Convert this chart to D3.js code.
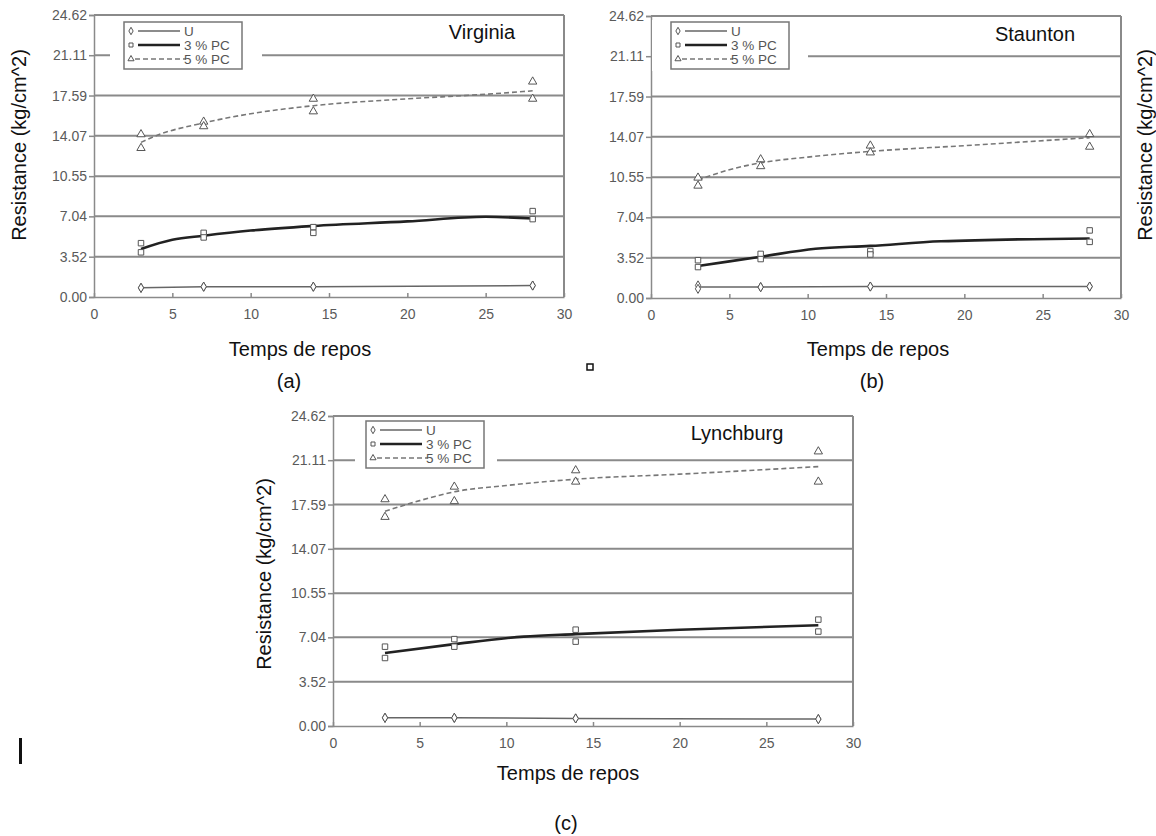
<!DOCTYPE html>
<meta charset="utf-8">
<style>
    body { margin: 0; background: #fff; }
    text { font-family: "Liberation Sans", Arial, sans-serif; }
    .grid line { stroke: #8a8a8a; stroke-width: 2; }
    .axis path, .axis line { stroke: #8a8a8a; stroke-width: 1.5; }
    .axis text { fill: #5a5a5a; font-size: 14px; }
</style>
<svg id="chart" width="1156" height="836"></svg>
<script src="https://d3js.org/d3.v7.min.js"></script>
<script>
    // shared axis values
    var yTicks = [0, 3.52, 7.04, 10.55, 14.07, 17.59, 21.11, 24.62];
    var xTicks = [0, 5, 10, 15, 20, 25, 30];
    var days = [3, 7, 14, 28];
    var seriesNames = ["U", "3 % PC", "5 % PC"];

    // Virginia (a) - two replicates per day
    var virginiaU = [[0.8, 0.8], [0.9, 0.9], [0.9, 0.9], [1.0, 1.0]];
    var virginiaPc3 = [[4.7, 3.9], [5.6, 5.2], [6.1, 5.6], [7.5, 6.8]];
    var virginiaPc5 = [[14.2, 13.0], [15.3, 14.9], [17.3, 16.2], [18.8, 17.3]];
    var virginiaPc3Trend = [[3, 4.2], [5, 5.0], [7, 5.35], [10, 5.8], [14, 6.2], [20, 6.6], [25, 7.0], [28, 6.85]];
    var virginiaPc5Trend = [[3, 13.5], [4, 14.1], [7, 15.2], [10, 16.0], [14, 16.7], [20, 17.3], [25, 17.7], [28, 18.0]];

    // Staunton (b)
    var stauntonU = [[1.1, 0.8], [0.95, 0.95], [1.0, 1.0], [1.0, 1.0]];
    var stauntonPc3 = [[3.3, 2.7], [3.85, 3.4], [4.1, 3.8], [5.9, 4.9]];
    var stauntonPc5 = [[10.5, 9.8], [12.1, 11.5], [13.3, 12.7], [14.3, 13.2]];
    var stauntonPc3Trend = [[3, 2.8], [7, 3.6], [10.5, 4.3], [14, 4.55], [18.5, 4.95], [28, 5.2]];
    var stauntonPc5Trend = [[3, 10.3], [5, 11.2], [7, 11.8], [10, 12.3], [14, 12.8], [20, 13.3], [28, 14.0]];

    // Lynchburg (c)
    var lynchburgU = [[0.65, 0.65], [0.65, 0.65], [0.6, 0.6], [0.55, 0.55]];
    var lynchburgPc3 = [[6.3, 5.4], [6.9, 6.3], [7.65, 6.7], [8.45, 7.5]];
    var lynchburgPc5 = [[18.0, 16.6], [19.0, 17.85], [20.3, 19.4], [21.8, 19.4]];
    var lynchburgPc3Trend = [[3, 5.8], [7, 6.5], [11, 7.1], [14, 7.3], [20, 7.65], [28, 8.0]];
    var lynchburgPc5Trend = [[3, 17.05], [5, 17.9], [7, 18.6], [10, 19.1], [14, 19.6], [20, 20.0], [28, 20.6]];

    // layout of the three panels (pixel boxes only, no data)
    var panels = [
        { name: "Virginia", tag: "(a)", left: 94, right: 564, top: 15, bottom: 297,
          titleX: 482, titleY: 39, legendX: 124, legendY: 22, hideFrom: 110, hideTo: 262,
          yTitleX: 26, yTitleY: 145, xTitleX: 300, xTitleY: 356, tagX: 289, tagY: 388,
          u: virginiaU, pc3: virginiaPc3, pc5: virginiaPc5, pc3Trend: virginiaPc3Trend, pc5Trend: virginiaPc5Trend },
        { name: "Staunton", tag: "(b)", left: 651, right: 1121, top: 16, bottom: 298,
          titleX: 1035, titleY: 41, legendX: 671, legendY: 22, hideFrom: 652, hideTo: 808,
          yTitleX: 1152, yTitleY: 145, xTitleX: 878, xTitleY: 356, tagX: 872, tagY: 388,
          u: stauntonU, pc3: stauntonPc3, pc5: stauntonPc5, pc3Trend: stauntonPc3Trend, pc5Trend: stauntonPc5Trend },
        { name: "Lynchburg", tag: "(c)", left: 333, right: 853, top: 416, bottom: 726,
          titleX: 737, titleY: 440, legendX: 366, legendY: 421, hideFrom: 355, hideTo: 497,
          yTitleX: 271, yTitleY: 574, xTitleX: 568, xTitleY: 780, tagX: 566, tagY: 830,
          u: lynchburgU, pc3: lynchburgPc3, pc5: lynchburgPc5, pc3Trend: lynchburgPc3Trend, pc5Trend: lynchburgPc5Trend }
    ];

    var svg = d3.select("#chart");

    var symbols = [d3.symbolDiamond, d3.symbolSquare, d3.symbolTriangle];
    var lineStyles = [
        { stroke: "#666", width: 1.5, dash: null },
        { stroke: "#222", width: 2.6, dash: null },
        { stroke: "#777", width: 1.6, dash: "5,3" }
    ];

    panels.forEach(function(p) {
        var g = svg.append("g");
        var x = d3.scaleLinear().domain([0, 30]).range([p.left, p.right]);
        var y = d3.scaleLinear().domain([0, 24.62]).range([p.bottom, p.top]);

        // horizontal grid lines (top one is the frame)
        g.append("g").attr("class", "grid")
            .selectAll("line")
            .data(yTicks.slice(1))
            .enter().append("line")
            .attr("x1", p.left).attr("x2", p.right)
            .attr("y1", function(d) { return y(d); })
            .attr("y2", function(d) { return y(d); });

        // right frame
        g.append("line")
            .attr("x1", p.right).attr("x2", p.right)
            .attr("y1", p.top).attr("y2", p.bottom)
            .attr("stroke", "#8a8a8a").attr("stroke-width", 2);

        // axes
        g.append("g").attr("class", "axis")
            .attr("transform", "translate(" + p.left + ",0)")
            .call(d3.axisLeft(y).tickValues(yTicks).tickFormat(d3.format(".2f")).tickSize(5).tickPadding(2));
        g.append("g").attr("class", "axis")
            .attr("transform", "translate(0," + p.bottom + ")")
            .call(d3.axisBottom(x).tickValues(xTicks).tickSizeInner(-4).tickSizeOuter(0).tickPadding(12));

        // white patch behind the legend (hides part of the 21.11 grid line)
        g.append("rect")
            .attr("x", p.hideFrom).attr("y", p.legendY - 2)
            .attr("width", p.hideTo - p.hideFrom).attr("height", 51)
            .attr("fill", "#fff");

        var line = d3.line()
            .x(function(d) { return x(d[0]); })
            .y(function(d) { return y(d[1]); })
            .curve(d3.curveMonotoneX);
        var straight = d3.line()
            .x(function(d) { return x(d[0]); })
            .y(function(d) { return y(d[1]); });

        // U line through the day means
        var uMeans = days.map(function(d, i) { return [d, d3.mean(p.u[i])]; });
        var trends = [uMeans, p.pc3Trend, p.pc5Trend];
        var reps = [p.u, p.pc3, p.pc5];

        trends.forEach(function(t, k) {
            g.append("path")
                .attr("d", k === 0 ? straight(t) : line(t))
                .attr("fill", "none")
                .attr("stroke", lineStyles[k].stroke)
                .attr("stroke-width", lineStyles[k].width)
                .attr("stroke-dasharray", lineStyles[k].dash);
        });

        reps.forEach(function(r, k) {
            var pts = [];
            r.forEach(function(pair, i) {
                pair.forEach(function(v) { pts.push([days[i], v]); });
            });
            g.append("g").selectAll("path")
                .data(pts)
                .enter().append("path")
                .attr("d", d3.symbol().type(symbols[k]).size(k === 0 ? 24 : 30))
                .attr("transform", function(d) { return "translate(" + x(d[0]) + "," + y(d[1]) + ")"; })
                .attr("fill", "#fff")
                .attr("stroke", "#555")
                .attr("stroke-width", 1);
        });

        // legend
        var lg = g.append("g").attr("transform", "translate(" + p.legendX + "," + p.legendY + ")");
        lg.append("rect")
            .attr("width", 118).attr("height", 47)
            .attr("fill", "#fff").attr("stroke", "#777").attr("stroke-width", 1.5);
        seriesNames.forEach(function(s, k) {
            var ly = 9 + k * 14;
            lg.append("path")
                .attr("d", d3.symbol().type(symbols[k]).size(16))
                .attr("transform", "translate(7," + ly + ")")
                .attr("fill", "#fff").attr("stroke", "#555");
            lg.append("line")
                .attr("x1", k === 2 ? 11 : 14).attr("x2", k === 2 ? 62 : 56)
                .attr("y1", ly).attr("y2", ly)
                .attr("stroke", lineStyles[k].stroke)
                .attr("stroke-width", lineStyles[k].width)
                .attr("stroke-dasharray", lineStyles[k].dash);
            lg.append("text")
                .attr("x", 60).attr("y", ly + 5)
                .attr("font-size", 13.5).attr("fill", "#555")
                .text(s);
        });

        // titles
        g.append("text")
            .attr("x", p.titleX).attr("y", p.titleY)
            .attr("text-anchor", "middle").attr("font-size", 20).attr("fill", "#111")
            .text(p.name);
        g.append("text")
            .attr("transform", "translate(" + p.yTitleX + "," + p.yTitleY + ") rotate(-90)")
            .attr("text-anchor", "middle").attr("font-size", 20).attr("fill", "#111")
            .text("Resistance (kg/cm^2)");
        g.append("text")
            .attr("x", p.xTitleX).attr("y", p.xTitleY)
            .attr("text-anchor", "middle").attr("font-size", 20).attr("fill", "#111")
            .text("Temps de repos");
        g.append("text")
            .attr("x", p.tagX).attr("y", p.tagY)
            .attr("text-anchor", "middle").attr("font-size", 20).attr("fill", "#111")
            .text(p.tag);
    });

    // stray marks from the scanned figure
    svg.append("rect")
        .attr("x", 587).attr("y", 364).attr("width", 6).attr("height", 6)
        .attr("fill", "#fff").attr("stroke", "#111").attr("stroke-width", 1.5);
    svg.append("rect")
        .attr("x", 19).attr("y", 738).attr("width", 3).attr("height", 26)
        .attr("fill", "#111");
</script>
